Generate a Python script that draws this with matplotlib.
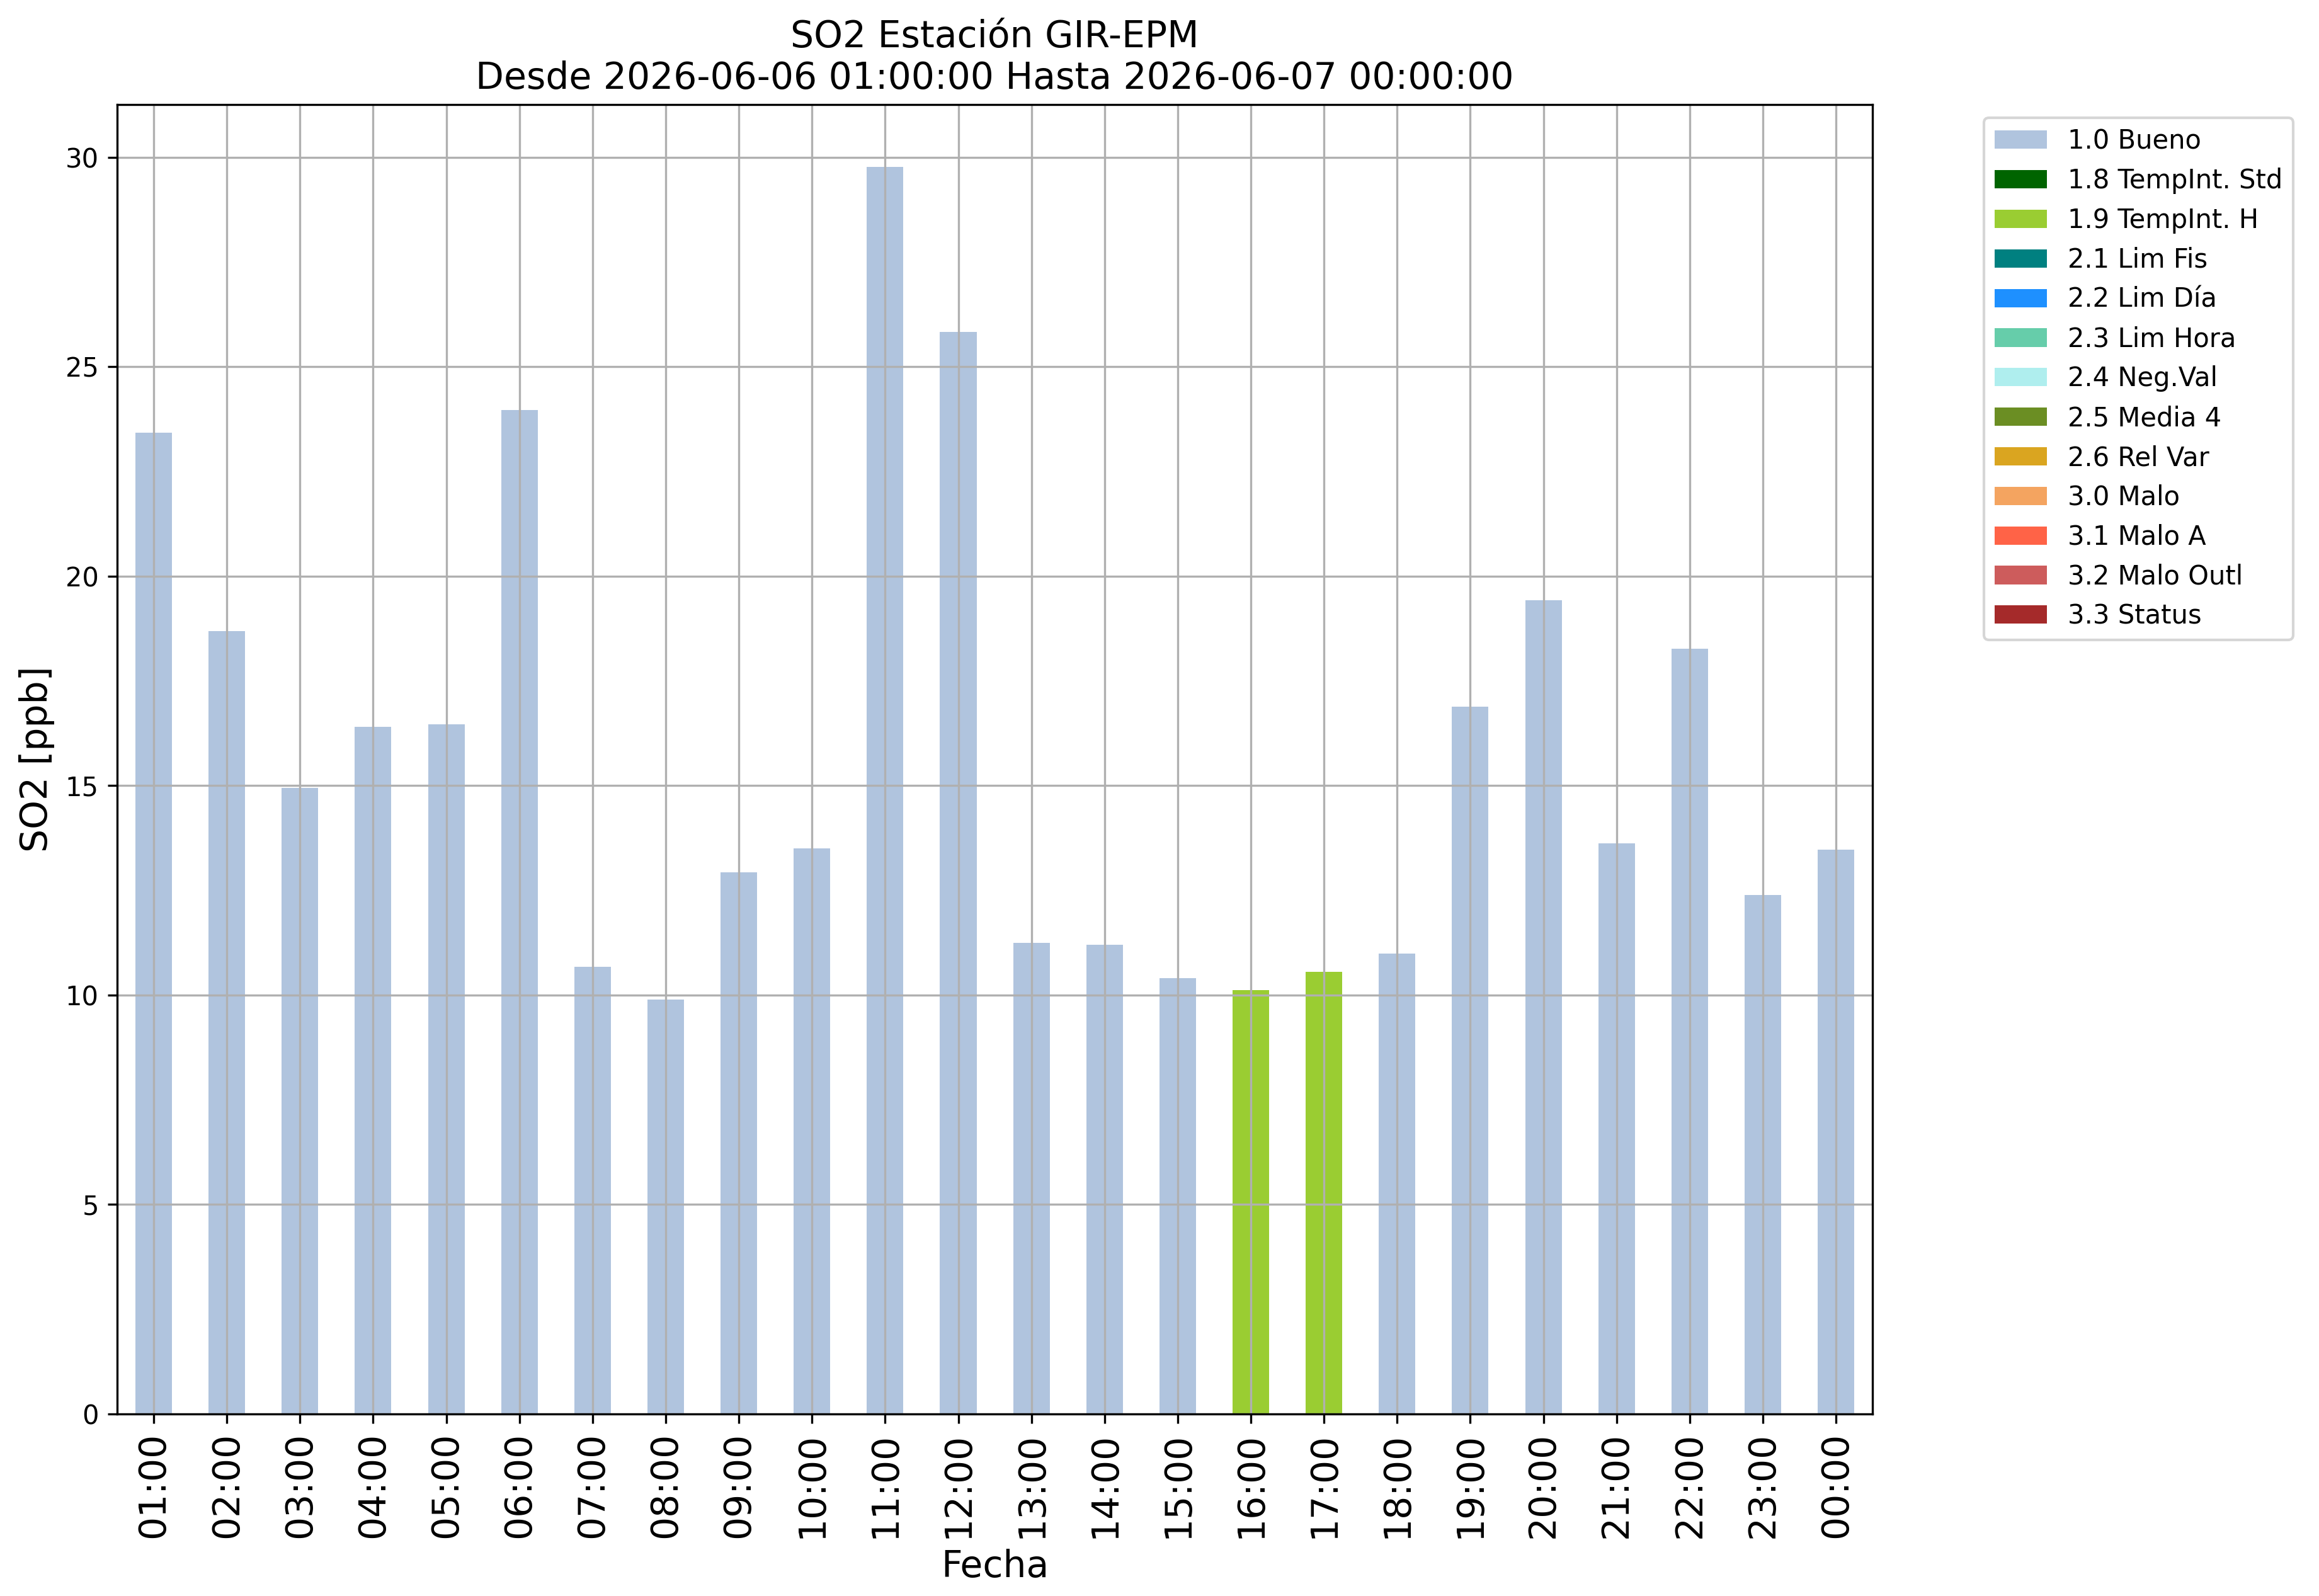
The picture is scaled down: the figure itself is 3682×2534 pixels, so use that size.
import matplotlib

matplotlib.use("Agg")
import matplotlib.pyplot as plt
import numpy as np

HOURS = [
    "01:00", "02:00", "03:00", "04:00", "05:00", "06:00", "07:00", "08:00",
    "09:00", "10:00", "11:00", "12:00", "13:00", "14:00", "15:00", "16:00",
    "17:00", "18:00", "19:00", "20:00", "21:00", "22:00", "23:00", "00:00",
]
SO2 = [
    23.43, 18.69, 14.95, 16.40, 16.47, 23.96, 10.67, 9.89,
    12.93, 13.50, 29.77, 25.83, 11.25, 11.20, 10.41, 10.12,
    10.56, 10.99, 16.89, 19.43, 13.62, 18.26, 12.39, 13.47,
]
FLAGS = [
    1.0, 1.0, 1.0, 1.0, 1.0, 1.0, 1.0, 1.0,
    1.0, 1.0, 1.0, 1.0, 1.0, 1.0, 1.0, 1.9,
    1.9, 1.0, 1.0, 1.0, 1.0, 1.0, 1.0, 1.0,
]

FLAG_CODES = [1.0, 1.8, 1.9, 2.1, 2.2, 2.3, 2.4, 2.5, 2.6, 3.0, 3.1, 3.2, 3.3]
FLAG_NAMES = [
    "1.0 Bueno", "1.8 TempInt. Std", "1.9 TempInt. H", "2.1 Lim Fis",
    "2.2 Lim Día", "2.3 Lim Hora", "2.4 Neg.Val", "2.5 Media 4",
    "2.6 Rel Var", "3.0 Malo", "3.1 Malo A", "3.2 Malo Outl", "3.3 Status",
]
FLAG_COLORS = [
    "lightsteelblue", "darkgreen", "yellowgreen", "teal", "dodgerblue",
    "mediumaquamarine", "paleturquoise", "olivedrab", "goldenrod",
    "sandybrown", "tomato", "indianred", "brown",
]


def main() -> None:
    values = np.array(SO2)
    flags = np.array(FLAGS)
    x = np.arange(len(HOURS))

    fig = plt.figure(figsize=(3682 / 300, 2534 / 300), dpi=300)
    ax = fig.add_axes([0.0505, 0.1141, 0.7570, 0.8204])

    bottom = np.zeros(len(x))
    for code, name, color in zip(FLAG_CODES, FLAG_NAMES, FLAG_COLORS):
        h = np.where(np.isclose(flags, code), values, 0.0)
        ax.bar(x, h, 0.5, bottom=bottom, color=color, label=name)
        bottom += h

    # stacked empty bars pin the top; restore the usual 5% headroom
    ax.set_ylim(0, values.max() * 1.05)
    ax.set_xlim(-0.5, len(x) - 0.5)
    ax.set_xticks(x)
    ax.set_xticklabels(HOURS, rotation=90, fontsize=14)
    ax.tick_params(axis="y", labelsize=10)
    ax.grid(True)

    ax.set_title(
        "SO2 Estación GIR-EPM\nDesde 2026-06-06 01:00:00 Hasta 2026-06-07 00:00:00",
        fontsize=14,
    )
    ax.set_xlabel("Fecha", fontsize=14)
    ax.set_ylabel("SO2 [ppb]", fontsize=14)
    ax.legend(bbox_to_anchor=(1.056, 1), loc="upper left", fontsize=10)

    fig.savefig("out.png", dpi=300, facecolor="white")
    plt.close(fig)


if __name__ == "__main__":
    main()
